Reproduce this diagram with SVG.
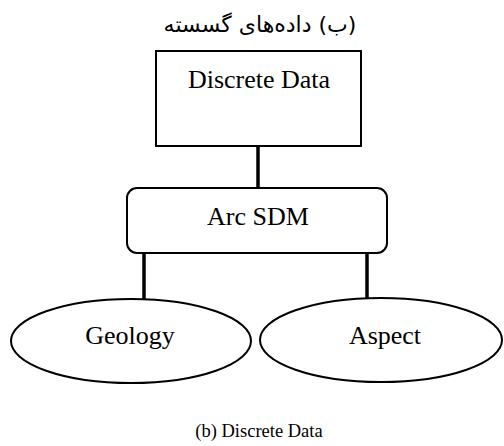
<svg xmlns="http://www.w3.org/2000/svg" width="504" height="446" viewBox="0 0 504 446">
<style>
.shape{fill:#fff;stroke:#000;stroke-width:2}
.lbl{font-family:"Liberation Serif","Times New Roman",serif;font-size:26px;fill:#000;text-anchor:middle}
.cap{font-family:"Liberation Serif","Times New Roman",serif;font-size:18.5px;fill:#000;text-anchor:middle}
.fa{font-family:"DejaVu Sans",sans-serif;font-size:22px;fill:#000;text-anchor:middle}
.conn{stroke:#000;stroke-width:3.5;fill:none}
</style>
<rect width="504" height="446" fill="#fff"/>
<text class="fa" x="260" y="32" direction="rtl">(ب) داده‌های گسسته</text>
<g id="connectors">
<line class="conn" x1="258" y1="146" x2="258" y2="188"/>
<line class="conn" x1="144" y1="253" x2="144" y2="300"/>
<line class="conn" x1="367" y1="253" x2="367" y2="299"/>
</g>
<g id="discrete-data">
<rect class="shape" x="156" y="51" width="205" height="95"/>
<text class="lbl" x="259" y="88">Discrete Data</text>
</g>
<g id="arc-sdm">
<rect class="shape" x="127" y="188" width="260" height="65" rx="10" ry="10"/>
<text class="lbl" x="258" y="225">Arc SDM</text>
</g>
<g id="geology">
<ellipse class="shape" cx="131" cy="341" rx="120" ry="42"/>
<text class="lbl" x="130" y="344">Geology</text>
</g>
<g id="aspect">
<ellipse class="shape" cx="381" cy="340" rx="121" ry="42"/>
<text class="lbl" x="385" y="344">Aspect</text>
</g>
<text class="cap" x="259" y="437">(b) Discrete Data</text>
</svg>
